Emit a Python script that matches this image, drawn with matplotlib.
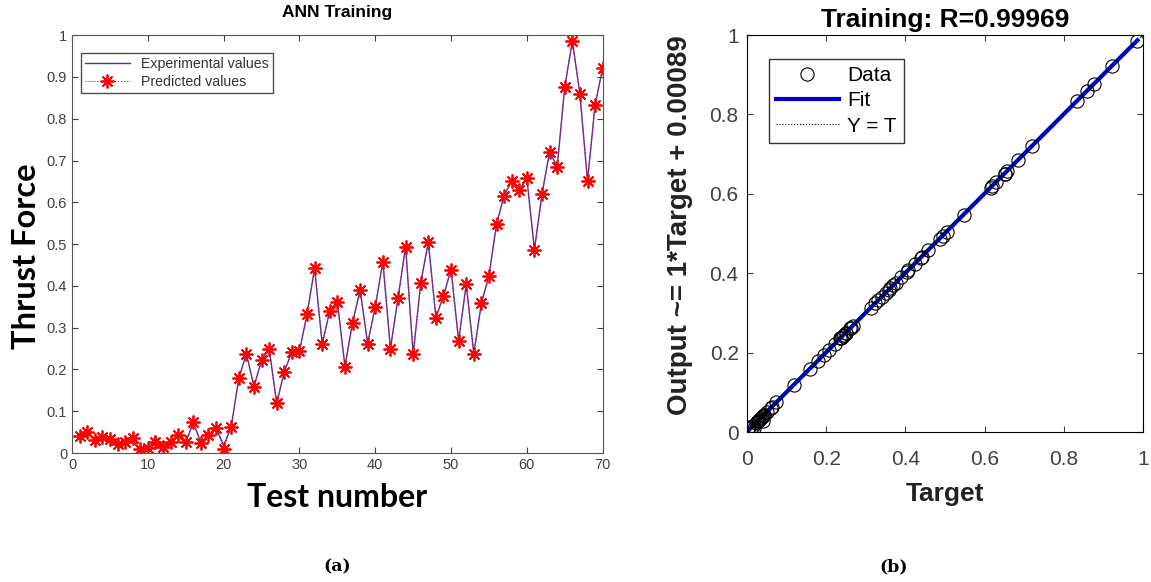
import numpy as np
import matplotlib
matplotlib.use("Agg")
import matplotlib.pyplot as plt

plt.rcParams['font.family'] = ['Liberation Sans', 'DejaVu Sans']

# test numbers 1..70
test_no = list(range(1, 71))

# predicted thrust force (normalised)
predicted = [0.040, 0.051, 0.031, 0.039, 0.034, 0.022, 0.027, 0.035, 0.010, 0.012,
             0.027, 0.014, 0.027, 0.043, 0.027, 0.075, 0.025, 0.043, 0.061, 0.010,
             0.063, 0.179, 0.238, 0.159, 0.222, 0.250, 0.119, 0.195, 0.242, 0.244,
             0.332, 0.442, 0.261, 0.340, 0.362, 0.207, 0.312, 0.390, 0.262, 0.350,
             0.458, 0.250, 0.370, 0.494, 0.236, 0.407, 0.505, 0.324, 0.376, 0.439,
             0.268, 0.404, 0.238, 0.358, 0.424, 0.548, 0.616, 0.651, 0.629, 0.657,
             0.487, 0.620, 0.721, 0.685, 0.876, 0.986, 0.859, 0.651, 0.833, 0.921]

# experimental values (nearly identical, small deviations at a few tests)
experimental = [0.040, 0.051, 0.031, 0.039, 0.034, 0.022, 0.027, 0.035, 0.003, 0.005,
                0.040, 0.014, 0.027, 0.043, 0.027, 0.072, 0.025, 0.043, 0.061, 0.018,
                0.063, 0.179, 0.238, 0.159, 0.222, 0.250, 0.119, 0.195, 0.242, 0.244,
                0.332, 0.442, 0.261, 0.340, 0.362, 0.207, 0.312, 0.390, 0.262, 0.350,
                0.458, 0.250, 0.370, 0.494, 0.236, 0.407, 0.505, 0.324, 0.376, 0.439,
                0.268, 0.404, 0.238, 0.358, 0.424, 0.548, 0.616, 0.651, 0.629, 0.657,
                0.487, 0.620, 0.721, 0.685, 0.876, 0.986, 0.859, 0.651, 0.833, 0.921]

fit_slope = 1.0
fit_offset = 0.00089

grey = '#404040'
asterisk = (8, 2, 0)

fig = plt.figure(figsize=(11.51, 5.82), dpi=100)

# ---- (a) ANN training
ax1 = fig.add_axes([0.0626, 0.2216, 0.461, 0.718])
ax1.plot(test_no, experimental, '-', color='#3a3acc', lw=1.0, label='Experimental values')
ax1.plot(test_no, predicted, ':', color='red', lw=0.8, marker=asterisk, markersize=10,
         markeredgewidth=1.3, label='Predicted values')
ax1.set_xlim(0, 70)
ax1.set_ylim(0, 1)
ax1.set_xticks(range(0, 71, 10))
ax1.set_yticks(np.arange(0, 1.01, 0.1))
ax1.set_yticklabels(['0'] + ['%.1f' % v for v in np.arange(0.1, 0.95, 0.1)] + ['1'])
ax1.tick_params(direction='in', top=True, right=True, labelsize=10.5, colors=grey, length=4)
for s in ax1.spines.values():
    s.set_color('#555555')
ax1.set_title('ANN Training', fontsize=12.5, fontweight='bold', pad=13)
ax1.set_xlabel('Test number', fontsize=23, fontweight='bold', family='Lato', labelpad=8)
ax1.set_ylabel('Thrust Force', fontsize=23.5, fontweight='bold', family='Lato')
ax1.yaxis.set_label_coords(-0.058, 0.47)
leg1 = ax1.legend(loc='upper left', bbox_to_anchor=(0.016, 0.958), fontsize=10.2,
                  frameon=True, fancybox=False, edgecolor='#222222', borderpad=0.3,
                  labelspacing=0.3, handlelength=3.2, borderaxespad=0)
for t in leg1.get_texts():
    t.set_color('#333333')

# ---- (b) regression plot
ax2 = fig.add_axes([0.649, 0.2577, 0.344, 0.682])
ax2.plot([0, 1], [0, 1], ':', color='black', lw=0.8, label='Y = T')
tmin, tmax = min(experimental), max(experimental)
ax2.plot([tmin, tmax], [fit_slope * tmin + fit_offset, fit_slope * tmax + fit_offset],
         '-', color='#0000cc', lw=3, label='Fit')
ax2.plot(experimental, predicted, 'o', markerfacecolor='none', markeredgecolor='black',
         markersize=9.5, markeredgewidth=0.8, label='Data')
ax2.set_xlim(0, 1)
ax2.set_ylim(0, 1)
ax2.set_xticks([0, 0.2, 0.4, 0.6, 0.8, 1])
ax2.set_yticks([0, 0.2, 0.4, 0.6, 0.8, 1])
ax2.set_xticklabels(['0', '0.2', '0.4', '0.6', '0.8', '1'])
ax2.set_yticklabels(['0', '0.2', '0.4', '0.6', '0.8', '1'])
ax2.tick_params(direction='in', top=True, right=True, labelsize=15, colors=grey, length=4,
                pad=6)
ax2.tick_params(axis='x', pad=13)
ax2.set_title('Training: R=0.99969', fontsize=19, fontweight='bold', pad=6)
ax2.set_xlabel('Target', fontsize=19, fontweight='bold', color='#222222', labelpad=9)
ax2.set_ylabel('Output ~= 1*Target + 0.00089', fontsize=20, fontweight='bold',
               color='#222222')
ax2.yaxis.set_label_coords(-0.137, 0.52)
h, l = ax2.get_legend_handles_labels()
ax2.legend([h[2], h[1], h[0]], [l[2], l[1], l[0]], loc='upper left',
           bbox_to_anchor=(0.055, 0.94), fontsize=15, frameon=True, fancybox=False,
           edgecolor='black', borderpad=0.35, labelspacing=0.3, handlelength=3.0,
           handletextpad=0.4, borderaxespad=0)

fig.text(0.293, 0.018, '(a)', fontsize=12.5, fontweight='bold', family='DejaVu Serif',
         ha='center')
fig.text(0.776, 0.018, '(b)', fontsize=12.5, fontweight='bold', family='DejaVu Serif',
         ha='center')

fig.savefig('out.png', dpi=100)
